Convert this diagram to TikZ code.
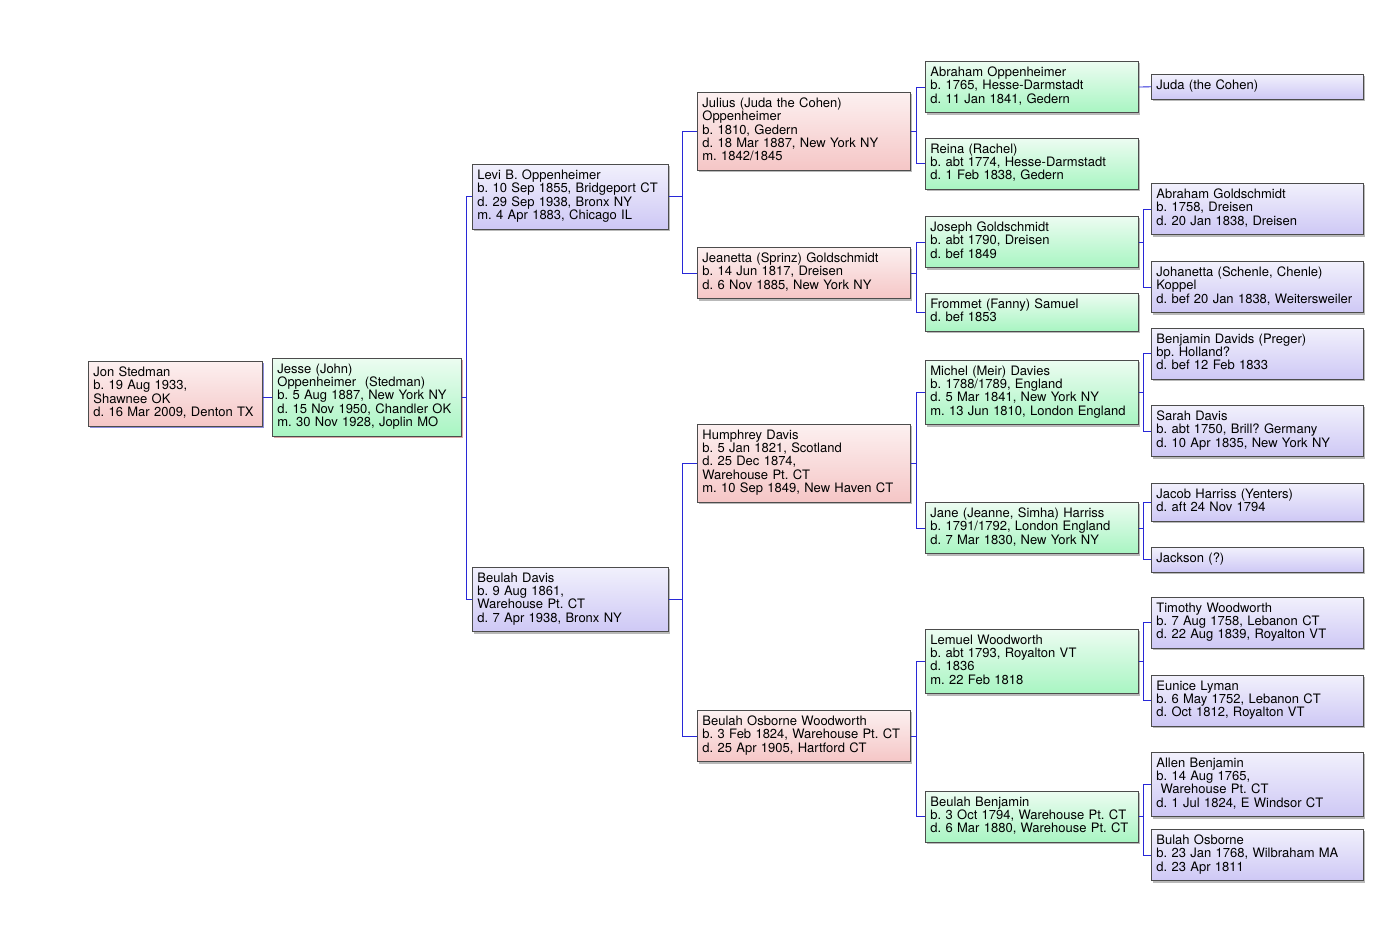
\documentclass[tikz,border=0pt]{standalone}
\usepackage{fontspec}
\setmainfont{TeX Gyre Heros}
\frenchspacing
\usetikzlibrary{shadows}

\definecolor{rosetop}{RGB}{252,240,240}
\definecolor{rosebot}{RGB}{245,198,198}
\definecolor{greentop}{RGB}{236,252,241}
\definecolor{greenbot}{RGB}{168,245,194}
\definecolor{violettop}{RGB}{241,240,252}
\definecolor{violetbot}{RGB}{206,200,245}
\definecolor{linkblue}{RGB}{40,40,215}

\tikzset{
    person/.style={draw=black!70, line width=0.8pt, anchor=north west, inner xsep=5pt, inner ysep=5.5pt,
        align=left, font=\fontsize{13}{13.3}\selectfont,
        execute at begin node={\fontsize{13}{13.3}\selectfont\lineskiplimit=-5pt\strut}, execute at end node=\strut,
        drop shadow={shadow xshift=2pt, shadow yshift=-2pt, fill=black!55}},
    rosebox/.style={person, top color=rosetop, bottom color=rosebot},
    greenbox/.style={person, top color=greentop, bottom color=greenbot},
    violetbox/.style={person, top color=violettop, bottom color=violetbot},
    link/.style={linkblue, line width=0.9pt}
}

\begin{document}
\begin{tikzpicture}[x=1pt, y=-1pt]
                \useasboundingbox (0,0) rectangle (1398,932);

                \node[rosebox, text width=164pt, drop shadow={shadow xshift=2pt, shadow yshift=-2pt, fill=blue!60}] (jon) at (88,361)
                    {Jon Stedman\\b. 19 Aug 1933,\\Shawnee OK\\d. 16 Mar 2009, Denton TX};
                \node[greenbox, text width=179pt, drop shadow={shadow xshift=2pt, shadow yshift=-2pt, fill=red!40}] (jesse) at (272,358)
                    {Jesse (John)\\Oppenheimer\ \ (Stedman)\\b. 5 Aug 1887, New York NY\\d. 15 Nov 1950, Chandler OK\\m. 30 Nov 1928, Joplin MO};

                \node[violetbox, text width=186pt] (levi) at (472,164)
                    {Levi B. Oppenheimer\\b. 10 Sep 1855, Bridgeport CT\\d. 29 Sep 1938, Bronx NY\\m. 4 Apr 1883, Chicago IL};
                \node[violetbox, text width=186pt] (beulahd) at (472,567)
                    {Beulah Davis\\b. 9 Aug 1861,\\Warehouse Pt. CT\\d. 7 Apr 1938, Bronx NY};

                \node[rosebox, text width=203pt] (julius) at (697,92)
                    {Julius (Juda the Cohen)\\Oppenheimer\\b. 1810, Gedern\\d. 18 Mar 1887, New York NY\\m. 1842/1845};
                \node[rosebox, text width=203pt] (jeanetta) at (697,247)
                    {Jeanetta (Sprinz) Goldschmidt\\b. 14 Jun 1817, Dreisen\\d. 6 Nov 1885, New York NY};
                \node[rosebox, text width=203pt] (humphrey) at (697,424)
                    {Humphrey Davis\\b. 5 Jan 1821, Scotland\\d. 25 Dec 1874,\\Warehouse Pt. CT\\m. 10 Sep 1849, New Haven CT};
                \node[rosebox, text width=203pt] (beulahw) at (697,710)
                    {Beulah Osborne Woodworth\\b. 3 Feb 1824, Warehouse Pt. CT\\d. 25 Apr 1905, Hartford CT};

                \node[greenbox, text width=203pt] (abrahamo) at (925,61)
                    {Abraham Oppenheimer\\b. 1765, Hesse-Darmstadt\\d. 11 Jan 1841, Gedern};
                \node[greenbox, text width=203pt] (reina) at (925,138)
                    {Reina (Rachel)\\b. abt 1774, Hesse-Darmstadt\\d. 1 Feb 1838, Gedern};
                \node[greenbox, text width=203pt] (joseph) at (925,216)
                    {Joseph Goldschmidt\\b. abt 1790, Dreisen\\d. bef 1849};
                \node[greenbox, text width=203pt] (frommet) at (925,293)
                    {Frommet (Fanny) Samuel\\d. bef 1853};
                \node[greenbox, text width=203pt] (michel) at (925,360)
                    {Michel (Meir) Davies\\b. 1788/1789, England\\d. 5 Mar 1841, New York NY\\m. 13 Jun 1810, London England};
                \node[greenbox, text width=203pt] (jane) at (925,502)
                    {Jane (Jeanne, Simha) Harriss\\b. 1791/1792, London England\\d. 7 Mar 1830, New York NY};
                \node[greenbox, text width=203pt] (lemuel) at (925,629)
                    {Lemuel Woodworth\\b. abt 1793, Royalton VT\\d. 1836\\m. 22 Feb 1818};
                \node[greenbox, text width=203pt] (beulahb) at (925,791)
                    {Beulah Benjamin\\b. 3 Oct 1794, Warehouse Pt. CT\\d. 6 Mar 1880, Warehouse Pt. CT};

                \node[violetbox, text width=202pt] (juda) at (1151,74) {Juda (the Cohen)};
                \node[violetbox, text width=202pt] (abrahamg) at (1151,183)
                    {Abraham Goldschmidt\\b. 1758, Dreisen\\d. 20 Jan 1838, Dreisen};
                \node[violetbox, text width=202pt] (johanetta) at (1151,261)
                    {Johanetta (Schenle, Chenle)\\Koppel\\d. bef 20 Jan 1838, Weitersweiler};
                \node[violetbox, text width=202pt] (benjamin) at (1151,328)
                    {Benjamin Davids (Preger)\\bp. Holland?\\d. bef 12 Feb 1833};
                \node[violetbox, text width=202pt] (sarah) at (1151,405)
                    {Sarah Davis\\b. abt 1750, Brill? Germany\\d. 10 Apr 1835, New York NY};
                \node[violetbox, text width=202pt] (jacob) at (1151,483)
                    {Jacob Harriss (Yenters)\\d. aft 24 Nov 1794};
                \node[violetbox, text width=202pt] (jackson) at (1151,547) {Jackson (?)};
                \node[violetbox, text width=202pt] (timothy) at (1151,597)
                    {Timothy Woodworth\\b. 7 Aug 1758, Lebanon CT\\d. 22 Aug 1839, Royalton VT};
                \node[violetbox, text width=202pt] (eunice) at (1151,675)
                    {Eunice Lyman\\b. 6 May 1752, Lebanon CT\\d. Oct 1812, Royalton VT};
                \node[violetbox, text width=202pt] (allen) at (1151,752)
                    {Allen Benjamin\\b. 14 Aug 1765,\\\ Warehouse Pt. CT\\d. 1 Jul 1824, E Windsor CT};
                \node[violetbox, text width=202pt] (bulah) at (1151,829)
                    {Bulah Osborne\\b. 23 Jan 1768, Wilbraham MA\\d. 23 Apr 1811};

                \draw[link] (jesse.west -| jon.east) -- (jesse.west);
                \draw[link] (jesse.east) -- ++(5,0) |- (levi.west);
                \draw[link] (jesse.east) -- ++(5,0) |- (beulahd.west);
                \draw[link] (levi.east) -- ++(14,0) |- (julius.west);
                \draw[link] (levi.east) -- ++(14,0) |- (jeanetta.west);
                \draw[link] (beulahd.east) -- ++(14,0) |- (humphrey.west);
                \draw[link] (beulahd.east) -- ++(14,0) |- (beulahw.west);
                \draw[link] (julius.east) -- ++(6,0) |- (abrahamo.west);
                \draw[link] (julius.east) -- ++(6,0) |- (reina.west);
                \draw[link] (jeanetta.east) -- ++(6,0) |- (joseph.west);
                \draw[link] (jeanetta.east) -- ++(6,0) |- (frommet.west);
                \draw[link] (humphrey.east) -- ++(6,0) |- (michel.west);
                \draw[link] (humphrey.east) -- ++(6,0) |- (jane.west);
                \draw[link] (beulahw.east) -- ++(6,0) |- (lemuel.west);
                \draw[link] (beulahw.east) -- ++(6,0) |- (beulahb.west);
                \draw[link] (abrahamo.east) -- (juda.west);
                \draw[link] (joseph.east) -- ++(5,0) |- (abrahamg.west);
                \draw[link] (joseph.east) -- ++(5,0) |- (johanetta.west);
                \draw[link] (michel.east) -- ++(5,0) |- (benjamin.west);
                \draw[link] (michel.east) -- ++(5,0) |- (sarah.west);
                \draw[link] (jane.east) -- ++(5,0) |- (jacob.west);
                \draw[link] (jane.east) -- ++(5,0) |- (jackson.west);
                \draw[link] (lemuel.east) -- ++(5,0) |- (timothy.west);
                \draw[link] (lemuel.east) -- ++(5,0) |- (eunice.west);
                \draw[link] (beulahb.east) -- ++(5,0) |- (allen.west);
                \draw[link] (beulahb.east) -- ++(5,0) |- (bulah.west);
\end{tikzpicture}
\end{document}
